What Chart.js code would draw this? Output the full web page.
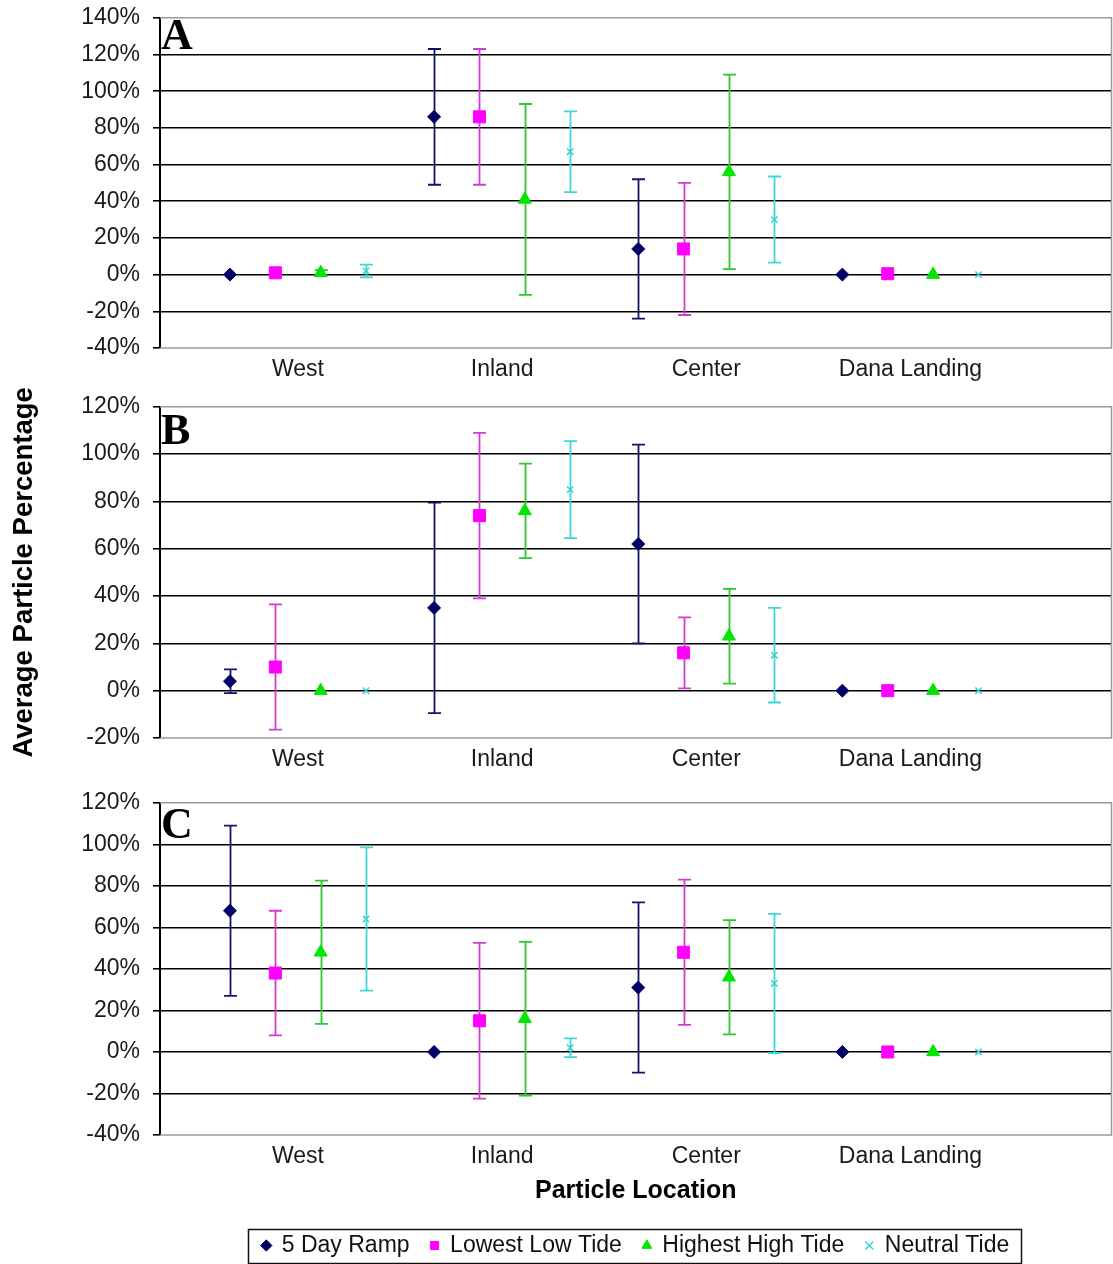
<!DOCTYPE html>
<html>
<head>
<meta charset="utf-8">
<title>Average Particle Percentage by Location</title>
<script src="https://cdn.jsdelivr.net/npm/chart.js@4.4.1/dist/chart.umd.min.js"></script>
<style>
  html, body { margin: 0; padding: 0; background: #fff; }
  #wrap { position: relative; width: 1113px; height: 1264px; overflow: hidden; }
  .panel { position: absolute; left: 0; width: 1121px; }
</style>
</head>
<body>
<div id="wrap">
  <div class="panel" style="top:-9px;height:394px"><canvas id="chartA"></canvas></div>
  <div class="panel" style="top:380px;height:395px"><canvas id="chartB"></canvas></div>
  <div class="panel" style="top:776px;height:491px"><canvas id="chartC"></canvas></div>
</div>
<script>
// ---- data -------------------------------------------------------------
const categories  = ['West', 'Inland', 'Center', 'Dana Landing'];
const seriesNames = ['5 Day Ramp', 'Lowest Low Tide', 'Highest High Tide', 'Neutral Tide'];

// Panel A: mean particle percentage (rows follow seriesNames, columns follow categories)
const meanA = [
  [0, 86, 14, 0],
  [1, 86, 14, 0.5],
  [1, 41, 56, 0],
  [2, 67, 30, 0]
];
// Panel A: error bar half-widths (±)
const errA = [
  [0, 37, 38, 0],
  [1, 37, 36, 0],
  [1.5, 52, 53, 0],
  [3.5, 22, 23.5, 0]
];

// Panel B
const meanB = [
  [4, 35, 62, 0],
  [10, 74, 16, 0],
  [0, 76, 23, 0],
  [0, 85, 15, 0]
];
const errB = [
  [5, 44.5, 42, 0],
  [26.5, 35, 15, 0],
  [0, 20, 20, 0],
  [0, 20.5, 20, 0]
];

// Panel C
const meanC = [
  [68, 0, 31, 0],
  [38, 15, 48, 0],
  [48, 16, 36, 0],
  [64, 2, 33, 0]
];
const errC = [
  [41, 0, 41, 0],
  [30, 37.5, 35, 0],
  [34.5, 37, 27.5, 0],
  [34.5, 4.5, 33.5, 0]
];

// y-axis tick values (percent)
const yTicksA = [-40, -20, 0, 20, 40, 60, 80, 100, 120, 140];
const yTicksB = [-20, 0, 20, 40, 60, 80, 100, 120];
const yTicksC = [-40, -20, 0, 20, 40, 60, 80, 100, 120];

// ---- styling ----------------------------------------------------------
const FONT = "'Liberation Sans', Arial, sans-serif";
Chart.defaults.font.family = FONT;
Chart.defaults.color = '#1a1a1a';

// horizontal slot of each series inside a location group
const slotOffset = [-1 / 3, -1 / 9, 1 / 9, 1 / 3];
const seriesStyle = [
  { pointStyle: 'rectRot',  radius: 6.5, fill: '#000066', edge: '#000066', edgeWidth: 1,   bar: '#141464' },
  { pointStyle: 'rect',     radius: 8.5, fill: '#ff00ff', edge: '#ff00ff', edgeWidth: 1,   bar: '#d23cd2' },
  { pointStyle: 'triangle', radius: 7.5, fill: '#00e600', edge: '#00e600', edgeWidth: 1,   bar: '#2ec82e' },
  { pointStyle: 'crossRot', radius: 4.5, fill: '#3cd2d2', edge: '#3cd2d2', edgeWidth: 1.5, bar: '#40d6d6' }
];

function makeDatasets(means, errs) {
  return seriesNames.map((name, s) => {
    const st = seriesStyle[s];
    return {
      label: name,
      data: categories.map((_, c) => ({ x: c + 1 + slotOffset[s], y: means[s][c] })),
      errors: errs[s],
      barColor: st.bar,
      showLine: false,
      pointStyle: st.pointStyle,
      pointRadius: st.radius,
      pointHoverRadius: st.radius,
      pointBackgroundColor: st.fill,
      pointBorderColor: st.edge,
      pointBorderWidth: st.edgeWidth,
      backgroundColor: st.fill,
      borderColor: st.edge
    };
  });
}

// vertical error bars with caps, drawn behind the markers
const errorBars = {
  id: 'errorBars',
  beforeDatasetsDraw(chart) {
    const { ctx } = chart;
    const y = chart.scales.y;
    chart.data.datasets.forEach((ds, i) => {
      const meta = chart.getDatasetMeta(i);
      meta.data.forEach((pt, j) => {
        const e = ds.errors[j];
        if (!e) return;
        const v = ds.data[j].y;
        const yt = y.getPixelForValue(v + e);
        const yb = y.getPixelForValue(v - e);
        const x = Math.round(pt.x) + 0.5;
        ctx.save();
        ctx.strokeStyle = ds.barColor;
        ctx.lineWidth = 1.8;
        ctx.beginPath();
        ctx.moveTo(x, yt); ctx.lineTo(x, yb);
        ctx.moveTo(x - 6.5, yt); ctx.lineTo(x + 6.5, yt);
        ctx.moveTo(x - 6.5, yb); ctx.lineTo(x + 6.5, yb);
        ctx.stroke();
        ctx.restore();
      });
    });
  }
};

// grey frame on the top, right and bottom of the plot, plus the panel letter
const panelFrame = {
  id: 'panelFrame',
  beforeDatasetsDraw(chart, args, opts) {
    const { ctx, chartArea: a } = chart;
    ctx.save();
    ctx.strokeStyle = '#9a9a9a';
    ctx.lineWidth = 1.5;
    ctx.beginPath();
    ctx.moveTo(a.left, a.top); ctx.lineTo(a.right, a.top);
    ctx.lineTo(a.right, a.bottom); ctx.lineTo(a.left, a.bottom);
    ctx.stroke();
    ctx.fillStyle = '#000';
    ctx.font = "bold 44px 'Liberation Serif', 'Times New Roman', serif";
    ctx.textBaseline = 'alphabetic';
    ctx.textAlign = 'left';
    ctx.fillText(opts.letter, a.left + 1, a.top + opts.baseline);
    ctx.restore();
  }
};

// thin black box around the legend row
const legendFrame = {
  id: 'legendFrame',
  afterDraw(chart) {
    const lg = chart.legend;
    if (!lg || !lg.legendHitBoxes || !lg.legendHitBoxes.length) return;
    const hb = lg.legendHitBoxes;
    const left = Math.min(...hb.map(h => h.left)) - 14;
    const right = Math.max(...hb.map(h => h.left + h.width)) + 12;
    const cy = hb[0].top + hb[0].height / 2;
    const { ctx } = chart;
    ctx.save();
    ctx.strokeStyle = '#111';
    ctx.lineWidth = 1.5;
    ctx.strokeRect(Math.round(left) + 0.5, Math.round(cy - 17) + 0.5, Math.round(right - left), 34);
    ctx.restore();
  }
};

function makeChart(id, opts) {
  const yTicks = opts.yTicks;
  const yMin = yTicks[0], yMax = yTicks[yTicks.length - 1];
  return new Chart(document.getElementById(id), {
    type: 'scatter',
    data: { datasets: makeDatasets(opts.means, opts.errs) },
    plugins: [errorBars, panelFrame].concat(opts.withLegend ? [legendFrame] : []),
    options: {
      responsive: true,
      maintainAspectRatio: false,
      animation: false,
      devicePixelRatio: 1,
      events: [],
      layout: { padding: { top: 0, right: 2, left: 0, bottom: 0 } },
      plugins: {
        tooltip: { enabled: false },
        panelFrame: { letter: opts.letter, baseline: opts.letterBaseline },
        legend: opts.withLegend ? {
          display: true,
          position: 'bottom',
          fullSize: false,
          align: 'center',
          labels: {
            usePointStyle: true,
            boxWidth: 8,
            boxHeight: 8,
            padding: 21,
            color: '#111',
            font: { size: 23, family: FONT }
          }
        } : { display: false }
      },
      scales: {
        x: {
          type: 'linear',
          min: 0.324,
          max: 4.985,
          afterBuildTicks(scale) { scale.ticks = categories.map((_, i) => ({ value: i + 1 })); },
          afterFit(scale) { scale.height = opts.xHeight; },
          grid: { display: false, drawTicks: false },
          border: { display: false },
          ticks: {
            autoSkip: false,
            maxRotation: 0,
            padding: 8,
            color: '#1a1a1a',
            font: { size: 23 },
            callback: (v, i) => categories[i]
          },
          title: opts.xTitle ? {
            display: true,
            text: opts.xTitle,
            color: '#000',
            font: { size: 25, weight: 'bold' },
            padding: { top: 0, bottom: 7 }
          } : { display: false }
        },
        y: {
          min: yMin,
          max: yMax,
          afterBuildTicks(scale) { scale.ticks = yTicks.map(v => ({ value: v })); },
          afterFit(scale) { scale.width = 160; },
          grid: {
            color: (c) => (c.tick && (c.tick.value === yMax || c.tick.value === yMin)) ? 'rgba(0,0,0,0)' : '#000',
            lineWidth: 1.6,
            tickColor: '#000',
            tickLength: 7
          },
          border: { display: true, color: '#000', width: 2 },
          ticks: {
            padding: 13,
            color: '#1a1a1a',
            font: { size: 23 },
            callback: (v) => v + '%'
          },
          title: opts.yTitle ? {
            display: true,
            text: opts.yTitle,
            color: '#000',
            font: { size: 27.5, weight: 'bold' },
            padding: { top: 8, bottom: 0 }
          } : { display: false }
        }
      }
    }
  });
}

makeChart('chartA', {
  means: meanA, errs: errA, yTicks: yTicksA,
  xHeight: 37, letter: 'A', letterBaseline: 31
});
makeChart('chartB', {
  means: meanB, errs: errB, yTicks: yTicksB,
  xHeight: 37, letter: 'B', letterBaseline: 37,
  yTitle: 'Average Particle Percentage'
});
makeChart('chartC', {
  means: meanC, errs: errC, yTicks: yTicksC,
  xHeight: 78, letter: 'C', letterBaseline: 35,
  xTitle: 'Particle Location', withLegend: true
});
</script>
</body>
</html>
